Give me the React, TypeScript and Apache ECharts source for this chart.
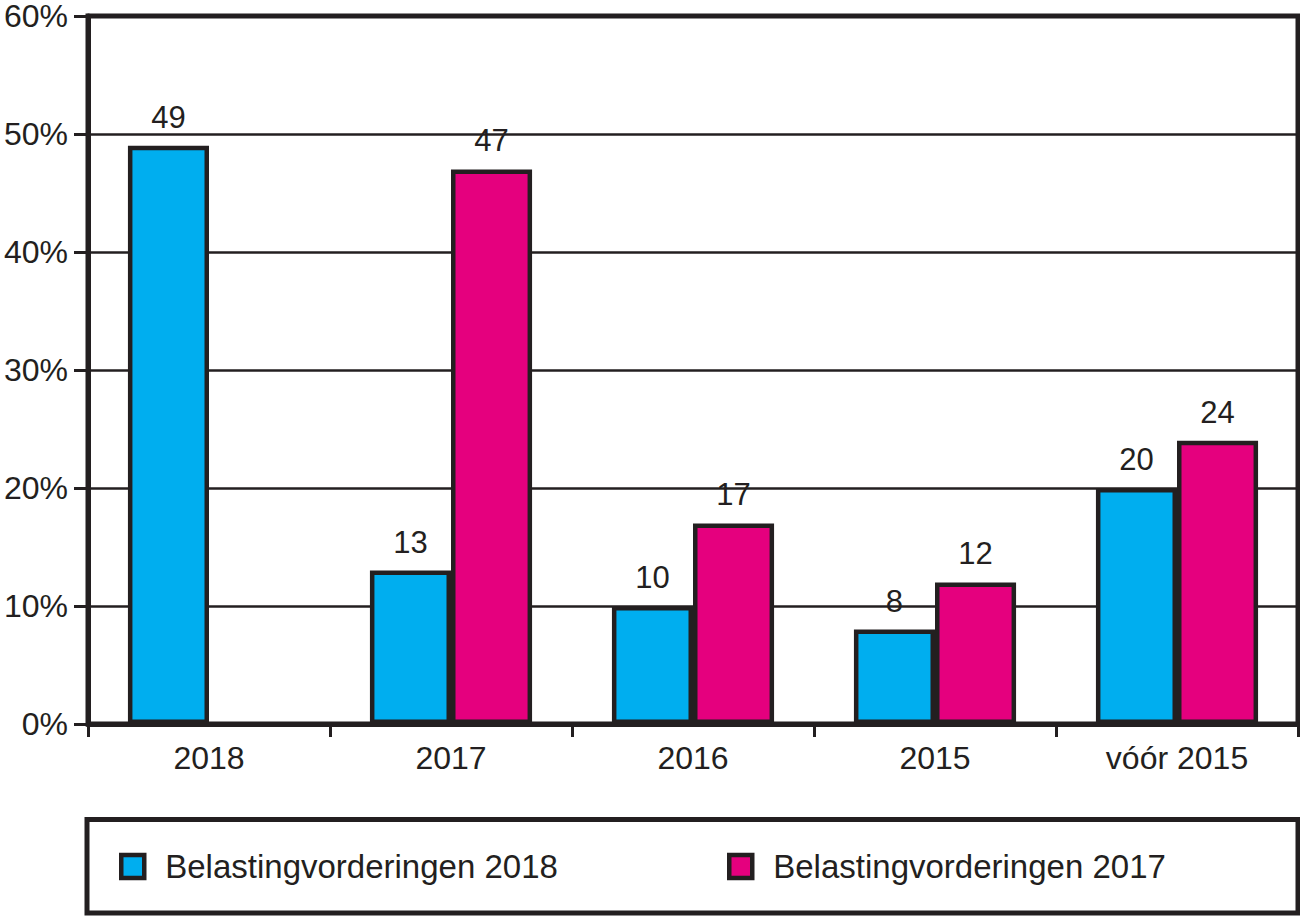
import React, { useEffect, useRef } from "react";
import * as echarts from "echarts";

const categories = ["2018", "2017", "2016", "2015", "vóór 2015"];
const series2018 = [49, 13, 10, 8, 20];
const series2017: (number | null)[] = [null, 47, 17, 12, 24];
const seriesNames = ["Belastingvorderingen 2018", "Belastingvorderingen 2017"];
const yTicks = { min: 0, max: 60, interval: 10 };

const DARK = "#231f20";
const BLUE = "#00aeef";
const PINK = "#e5007e";
const FONT = "Liberation Sans";

export default function App() {
  const ref = useRef<HTMLDivElement>(null);
  useEffect(() => {
    document.body.style.margin = "0";
    const chart = echarts.init(ref.current!, null, { renderer: "svg" });
    const barLabel = {
      show: true,
      position: "top" as const,
      distance: 13,
      color: DARK,
      fontFamily: FONT,
      fontSize: 31,
    };
    const legendCommon = {
      top: 850,
      padding: 0,
      icon: "rect",
      itemWidth: 23,
      itemHeight: 23,
      itemStyle: { borderColor: DARK, borderWidth: 4.5 },
      textStyle: { color: DARK, fontFamily: FONT, fontSize: 33, padding: [0, 0, 0, 16] },
    };
    chart.setOption({
      animation: false,
      backgroundColor: "#ffffff",
      textStyle: { fontFamily: FONT, color: DARK },
      grid: {
        left: 88,
        right: 2,
        top: 16,
        bottom: 192,
        show: true,
        borderColor: DARK,
        borderWidth: 5,
      },
      xAxis: {
        type: "category",
        data: categories,
        axisLine: { show: true, lineStyle: { color: DARK, width: 5 } },
        axisTick: { show: true, length: 13, interval: 0, lineStyle: { color: DARK, width: 3 } },
        axisLabel: { color: DARK, fontFamily: FONT, fontSize: 32, margin: 18, interval: 0 },
      },
      yAxis: {
        type: "value",
        min: yTicks.min,
        max: yTicks.max,
        interval: yTicks.interval,
        axisLine: { show: true, lineStyle: { color: DARK, width: 5 } },
        axisTick: { show: true, length: 14, lineStyle: { color: DARK, width: 3 } },
        axisLabel: {
          color: DARK,
          fontFamily: FONT,
          fontSize: 32,
          lineHeight: 24,
          margin: 20,
          formatter: "{value}%",
        },
        splitLine: { show: true, lineStyle: { color: DARK, width: 2.5 } },
      },
      legend: [
        { ...legendCommon, data: [seriesNames[0]], left: 119 },
        { ...legendCommon, data: [seriesNames[1]], left: 727 },
      ],
      graphic: [
        {
          type: "rect",
          shape: { x: 87, y: 819.5, width: 1211, height: 93.5 },
          style: { fill: "none", stroke: DARK, lineWidth: 5 },
          z: 0,
        },
      ],
      series: [
        {
          name: seriesNames[0],
          type: "bar",
          data: series2018,
          barGap: "0%",
          barCategoryGap: "33%",
          itemStyle: { color: BLUE, borderColor: DARK, borderWidth: 4.5 },
          label: barLabel,
        },
        {
          name: seriesNames[1],
          type: "bar",
          data: series2017,
          barGap: "0%",
          barCategoryGap: "33%",
          itemStyle: { color: PINK, borderColor: DARK, borderWidth: 4.5 },
          label: barLabel,
        },
      ],
    });
    return () => chart.dispose();
  }, []);
  return (
    <div
      ref={ref}
      style={{ position: "fixed", left: 0, top: 0, width: 1300, height: 916 }}
    />
  );
}
